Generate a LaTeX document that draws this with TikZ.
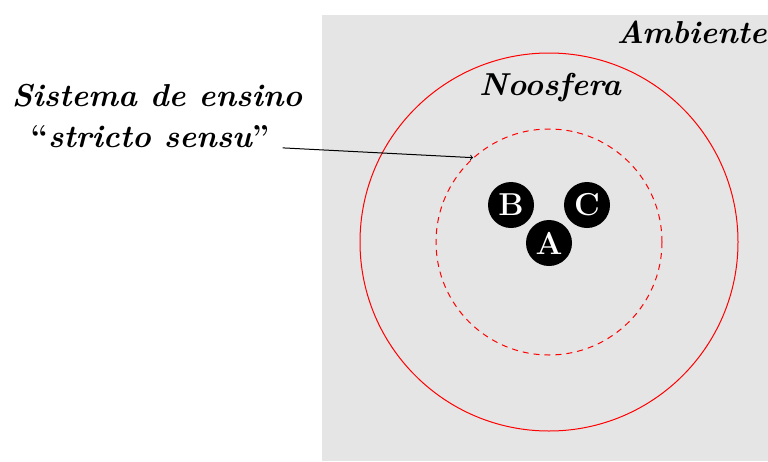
\documentclass[tikz,border=0pt]{standalone}
\usetikzlibrary{calc}
\tikzset{
  lbl/.style={font=\fontsize{31.7}{38}\selectfont\bfseries\itshape, inner sep=0pt},
  agent/.style={circle, fill=black, text=white, minimum size=46pt, inner sep=0pt, font=\fontsize{31.7}{38}\selectfont\bfseries},
  ring/.style={circle, draw=red, line width=1pt, inner sep=0pt},
}
\begin{document}
\begin{tikzpicture}[x=1pt,y=-1pt]
\useasboundingbox (0,0) rectangle (768,461);
\fill[gray!20] (322,15) rectangle (768,461);
\node[ring, minimum size=378pt] (noo) at (549,242) {};
\node[ring, dashed, dash pattern=on 6pt off 5pt, minimum size=226pt] (ses) at (549,242) {};
\node[lbl, anchor=east] (amb) at (767,32) {Ambiente};
\node[lbl] (noolbl) at (550,88) {Noosfera};
\node[agent] (B) at (511,205) {B};
\node[agent] (C) at (587,205) {C};
\node[agent] (A) at (549,243) {A};
\node[lbl] (l1) at (157,96) {Sistema de ensino};
\node[lbl] (l2) at (150,137) {{\upshape``}stricto sensu{\upshape''}};
\draw[->, line width=1pt] ($(l2.base east)+(13,0)$) -- (ses.132);
\end{tikzpicture}
\end{document}
